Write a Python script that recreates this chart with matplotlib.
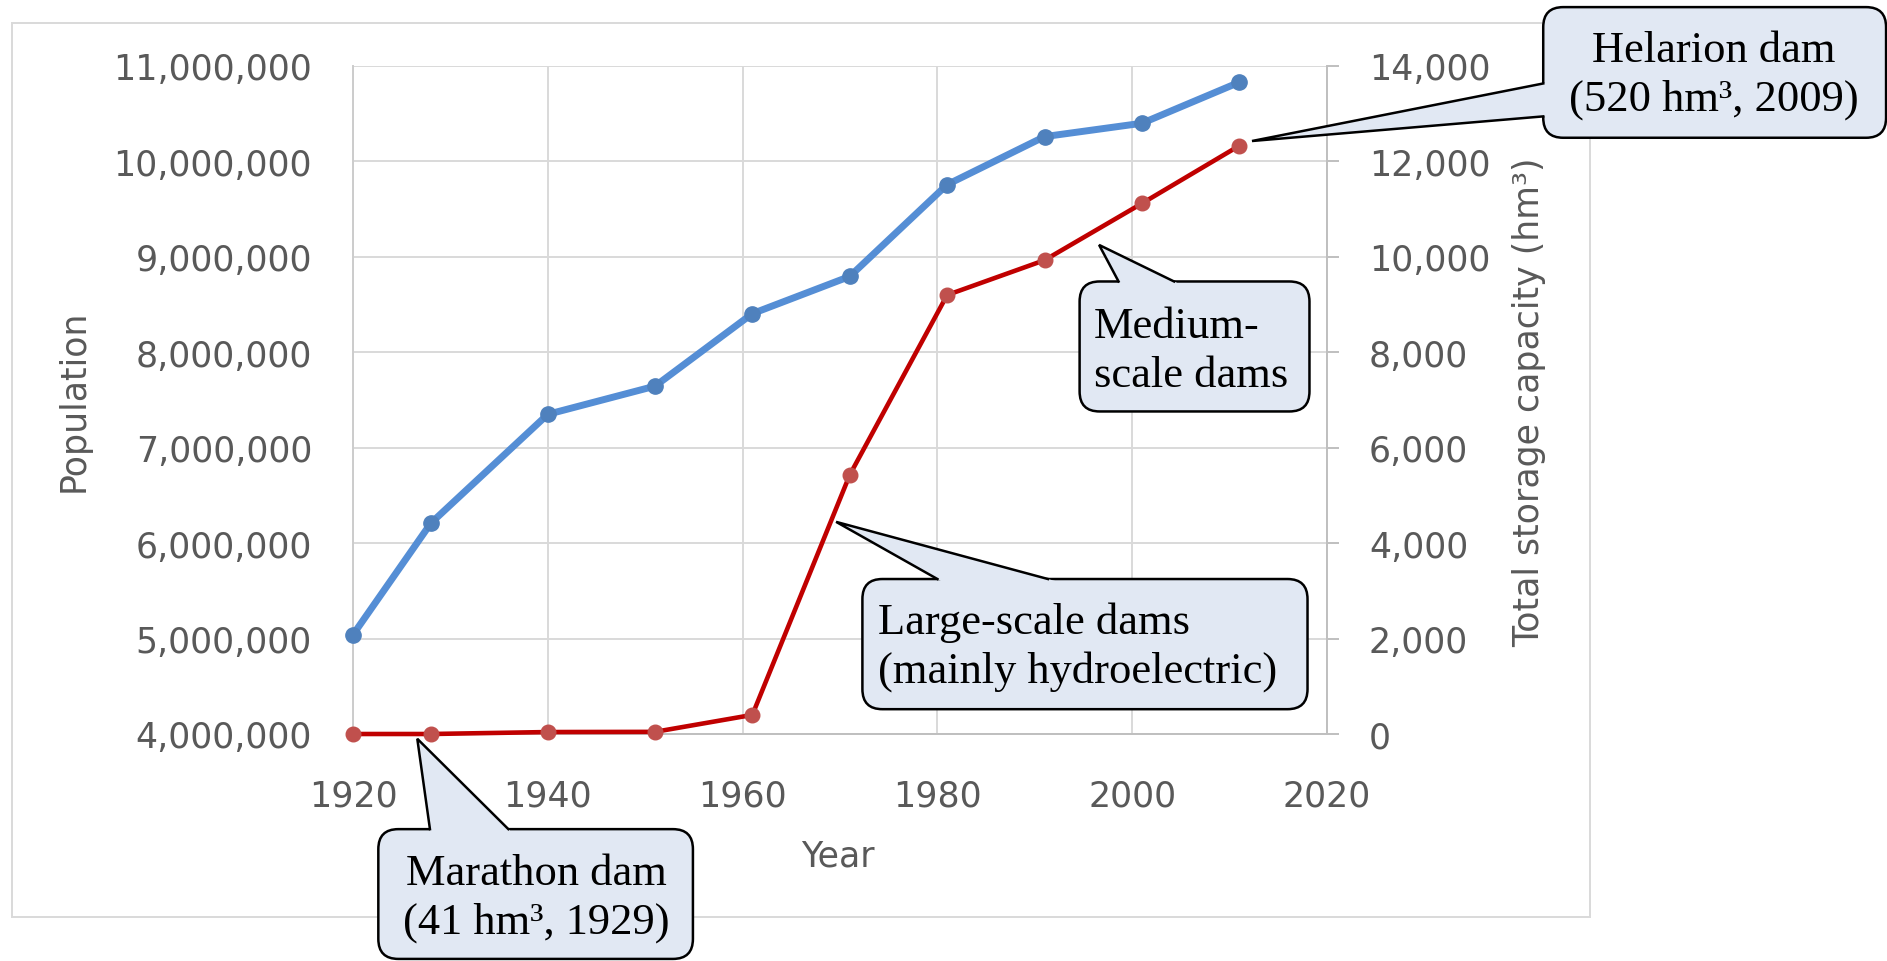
import matplotlib
matplotlib.use("Agg")
import matplotlib.pyplot as plt
import matplotlib.transforms as mtransforms
from matplotlib.patches import FancyBboxPatch, Polygon, Rectangle
from matplotlib.lines import Line2D
from matplotlib.ticker import FuncFormatter, MultipleLocator

plt.rcParams['font.family'] = ['DejaVu Sans']

# census years
years = [1920, 1928, 1940, 1951, 1961, 1971, 1981, 1991, 2001, 2011]
# population (left axis)
population = [5040000, 6210000, 7350000, 7645000, 8405000,
              8795000, 9757000, 10260000, 10400000, 10830000]
# total storage capacity in hm3 (right axis)
storage = [0, 0, 41, 45, 400, 5430, 9200, 9930, 11120, 12330]

x_ticks = [1920, 1940, 1960, 1980, 2000, 2020]

# callout texts
helarion_txt = "Helarion dam\n(520 hm\u00b3, 2009)"
medium_txt = "Medium-\nscale dams"
large_txt = "Large-scale dams\n(mainly hydroelectric)"
marathon_txt = "Marathon dam\n(41 hm\u00b3, 1929)"

W, H = 1887, 962
fig = plt.figure(figsize=(W / 100, H / 100), dpi=100)
ax = fig.add_axes([353 / W, 1 - 735 / H, (1327 - 353) / W, (735 - 67) / H])
ax2 = ax.twinx()

grey_txt = '#595959'

ax.plot(years, population, color='#558ED5', lw=5, marker='o', ms=11,
        mfc='#4F81BD', mec='#4F81BD', clip_on=False, zorder=3)
ax2.plot(years, storage, color='#C00000', lw=3.3, marker='o', ms=10.5,
         mfc='#C0504D', mec='#C0504D', clip_on=False, zorder=3)

ax.set_xlim(1920, 2020)
ax.set_ylim(4000000, 11000000)
ax2.set_ylim(0, 14000)
ax.set_xticks(x_ticks)
ax.yaxis.set_major_locator(MultipleLocator(1000000))
ax2.yaxis.set_major_locator(MultipleLocator(2000))
fmt = FuncFormatter(lambda v, p: f"{int(round(v)):,}")
ax.yaxis.set_major_formatter(fmt)
ax2.yaxis.set_major_formatter(fmt)

ax.grid(True, color='#D9D9D9', lw=1.4)
ax.set_axisbelow(True)
for s in ['top', 'right']:
    ax.spines[s].set_visible(False)
ax.spines['left'].set_color('#CCCCCC')
ax.spines['bottom'].set_color('#BFBFBF')
ax.spines['left'].set_linewidth(1.4)
ax.spines['bottom'].set_linewidth(1.4)
for s in ['top', 'left', 'bottom']:
    ax2.spines[s].set_visible(False)
ax2.spines['right'].set_color('#BFBFBF')
ax2.spines['right'].set_linewidth(1.4)

ax.tick_params(axis='both', length=0, labelsize=25, labelcolor=grey_txt)
ax.tick_params(axis='y', pad=29.5)
ax.tick_params(axis='x', pad=32)
ax2.tick_params(axis='y', length=8.6, width=1.4, color='#BFBFBF', pad=21.6,
                labelsize=25, labelcolor=grey_txt)

# axis titles
fig.text(74 / W, 1 - 401 / H, 'Population', rotation=90, ha='center',
         va='center', fontsize=25, color=grey_txt)
fig.text(1529 / W, 1 - 402 / H, 'Total storage capacity (hm\u00b3)', rotation=90,
         ha='center', va='center', fontsize=25, color=grey_txt)
fig.text(838 / W, 1 - 857 / H, 'Year', ha='center', va='center',
         fontsize=25, color=grey_txt)

# chart area border
fig.add_artist(Rectangle((12 / W, 1 - 918 / H), 1578 / W, 894 / H,
                         transform=fig.transFigure, fill=False,
                         ec='#D9D9D9', lw=1.4, zorder=-1))

# callouts
ident = mtransforms.IdentityTransform()
fill = '#E1E8F3'


def callout(text, box, tip, base, ha, txy):
    x0, x1, y0, y1 = box
    p0 = ax.transData.transform((x0, y0))
    p1 = ax.transData.transform((x1, y1))
    fig.add_artist(FancyBboxPatch((p0[0], p0[1]), p1[0] - p0[0], p1[1] - p0[1],
                                  boxstyle="round,pad=0,rounding_size=20",
                                  transform=ident, fc=fill, ec='black',
                                  lw=1.8, zorder=5))
    t = ax.transData.transform(tip)
    b = ax.transData.transform(base)
    ext = t + (b - t) * 1.08
    fig.add_artist(Polygon([t, ext[0], ext[1]], closed=True, transform=ident,
                           fc=fill, ec='none', zorder=6))
    fig.add_artist(Line2D([b[0][0], t[0], b[1][0]], [b[0][1], t[1], b[1][1]],
                          transform=ident, color='black', lw=1.8,
                          solid_joinstyle='miter', zorder=7))
    fig.text(txy[0], txy[1], text, transform=ax.transData, ha=ha, va='center',
             multialignment=ha, family='Liberation Serif', fontsize=32,
             linespacing=1.28, color='black', zorder=8)


callout(helarion_txt, (2042.2, 2077.4, 10248000, 11617000), (2012.3, 10214000),
        [(2042.2, 10817000), (2042.2, 10472000)], 'center', (2059.7, 10910000))
callout(medium_txt, (1994.6, 2018.2, 7380000, 8742000), (1996.6, 9125000),
        [(1998.6, 8742000), (2004.3, 8742000)], 'left', (1996.1, 8020000))
callout(large_txt, (1972.3, 2018.0, 4260000, 5624000), (1969.6, 6223000),
        [(1980.0, 5624000), (1991.35, 5624000)], 'left', (1973.9, 4920000))
callout(marathon_txt, (1922.6, 1954.9, 1643000, 3003000), (1926.6, 3950000),
        [(1927.9, 3003000), (1935.95, 3003000)], 'center', (1938.8, 2290000))

fig.savefig('out.png', dpi=100)
